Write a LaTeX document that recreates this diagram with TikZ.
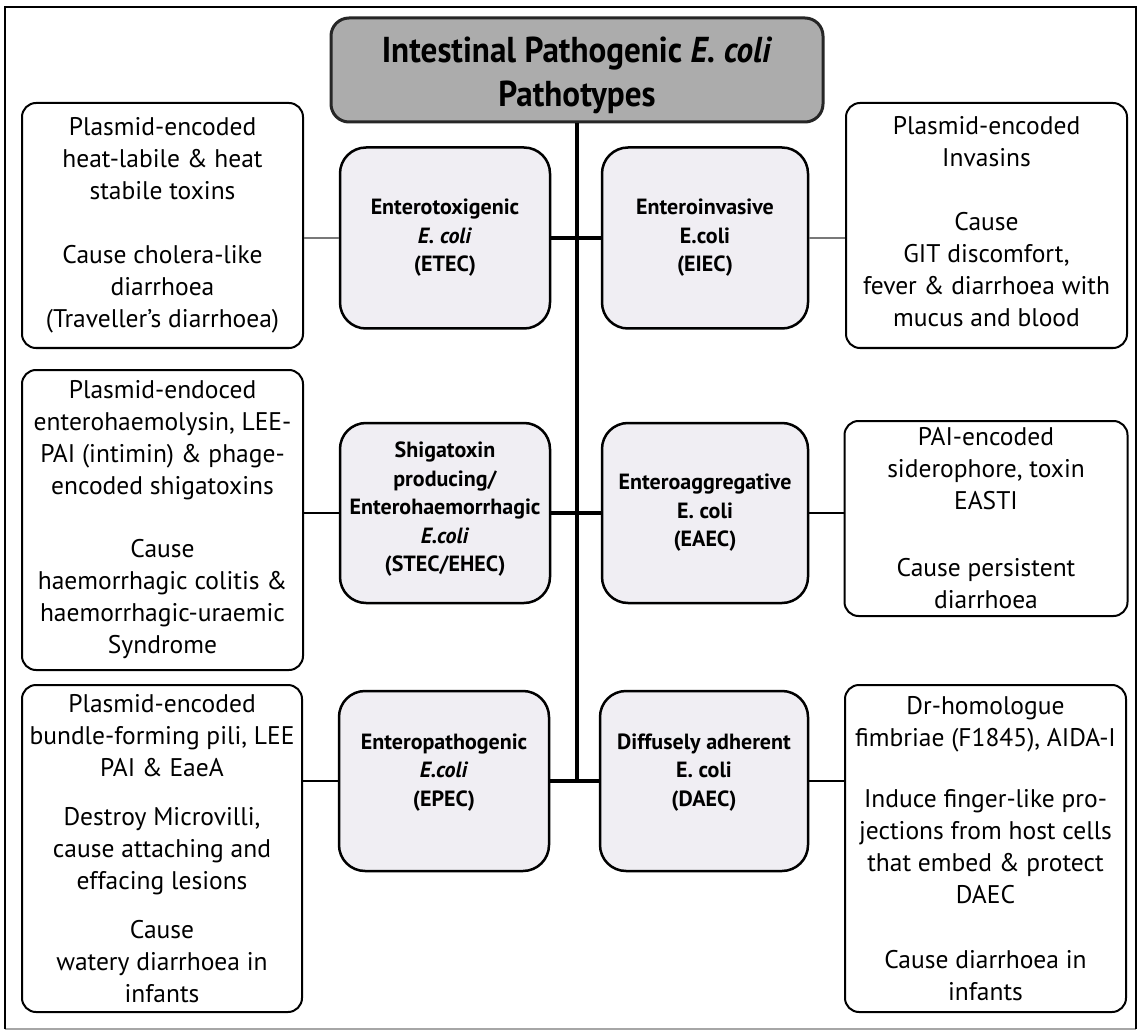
\documentclass[tikz,border=0pt]{standalone}
\usepackage{fontspec}
\setmainfont{PT Sans}
\newfontfamily\titlefont[FakeStretch=0.92]{PT Sans}
\definecolor{midfill}{RGB}{240,238,243}
\definecolor{titlefill}{RGB}{172,172,172}
\definecolor{linkgray}{RGB}{120,120,120}
\newcommand\lowpad[1]{\rule[-#1]{0pt}{#1}}
\newcommand\toppad[1]{\rule{0pt}{#1}}
\tikzset{
  outerbox/.style={draw=black, line width=2pt, rounded corners=14pt, fill=white,
    align=center, inner sep=0pt, font=\fontsize{25.5}{32}\selectfont},
  midbox/.style={draw=black, line width=2.5pt, rounded corners=26pt, fill=midfill,
    align=center, inner sep=0pt, font=\bfseries\fontsize{22}{28.5}\selectfont},
  titlebox/.style={draw=black!85, line width=3pt, rounded corners=18pt, fill=titlefill,
    align=center, inner sep=0pt, font=\titlefont\bfseries\fontsize{36}{44}\selectfont},
  thinlink/.style={draw=linkgray, line width=1.5pt},
  medlink/.style={draw=black, line width=2.5pt},
  thicklink/.style={draw=black, line width=4.5pt},
}
\begin{document}
\begin{tikzpicture}[x=1pt,y=-1pt]
\useasboundingbox (0,0) rectangle (1138,1032);
\fill[white] (0,0) rectangle (1138,1032);
\draw[line width=1.5pt, black!35] (5,1029) -- (1136,1029);
\draw[line width=2.5pt] (5,1029) -- (5,7) -- (1136,7) -- (1136,1029);

% title
\node[titlebox, minimum width=492pt, minimum height=104pt] (title) at (577,70)
  {\toppad{36pt}Intestinal Pathogenic \textit{E. coli}\\Pathotypes};

% middle boxes
\node[midbox, minimum width=210pt, minimum height=181pt] (etec) at (445,238)
  {Enterotoxigenic\\\textit{E. coli}\\(ETEC)};
\node[midbox, minimum width=206pt, minimum height=181pt] (eiec) at (705,238)
  {Enteroinvasive\\E.coli\\(EIEC)};
\node[midbox, minimum width=210pt, minimum height=180pt] (stec) at (445,513)
  {Shigatoxin\\producing/\\Enterohaemorrhagic\\\textit{E.coli}\\(STEC/EHEC)\lowpad{12pt}};
\node[midbox, minimum width=206pt, minimum height=180pt] (eaec) at (705,513)
  {Enteroaggregative\\E. coli\\(EAEC)};
\node[midbox, minimum width=210pt, minimum height=180pt] (epec) at (444,781)
  {Enteropathogenic\\\textit{E.coli}\\(EPEC)\lowpad{22pt}};
\node[midbox, minimum width=208pt, minimum height=180pt] (daec) at (704,781)
  {Diffusely adherent\\E. coli\\(DAEC)\lowpad{22pt}};

% outer boxes left
\node[outerbox, minimum width=281pt, minimum height=245pt] (l1) at (162.5,225.5)
  {Plasmid-encoded\\heat-labile \& heat\\stabile toxins\\[32pt]Cause cholera-like\\diarrhoea\\(Traveller’s diarrhoea)};
\node[outerbox, minimum width=281pt, minimum height=300pt] (l2) at (162.5,520)
  {Plasmid-endoced\\enterohaemolysin, LEE-\\PAI (intimin) \& phage-\\encoded shigatoxins\\[31pt]Cause\\haemorrhagic colitis \&\\haemorrhagic-uraemic\\Syndrome};
\node[outerbox, minimum width=280pt, minimum height=327pt] (l3) at (162,848.5)
  {Plasmid-encoded\\bundle-forming pili, LEE\\PAI \& EaeA\\[17pt]Destroy Microvilli,\\cause attaching and\\effacing lesions\\[17pt]Cause\\watery diarrhoea in\\infants};

% outer boxes right
\node[outerbox, minimum width=281pt, minimum height=245pt] (r1) at (986.5,225.5)
  {Plasmid-encoded\\Invasins\\[32pt]Cause\\GIT discomfort,\\fever \& diarrhoea with\\mucus and blood\lowpad{9pt}};
\node[outerbox, minimum width=283pt, minimum height=195pt] (r2) at (986,518.5)
  {PAI-encoded\\siderophore, toxin\\EASTI\\[35pt]Cause persistent\\diarrhoea};
\node[outerbox, minimum width=281pt, minimum height=327pt] (r3) at (985.5,848.5)
  {Dr-homologue\\fimbriae (F1845), AIDA-I\\[29pt]Induce finger-like pro-\\jections from host cells\\that embed \& protect\\DAEC\\[33pt]Cause diarrhoea in\\infants};

% trunk and links
\draw[thicklink] (title.south) -- (title.south |- epec.east);
\draw[thicklink] (etec.east) -- (eiec.west);
\draw[thicklink] (stec.east) -- (eaec.west);
\draw[thicklink] (epec.east) -- (daec.west);

\draw[thinlink] (etec.west -| l1.east) -- (etec.west);
\draw[thinlink] (eiec.east) -- (eiec.east -| r1.west);
\draw[medlink] (stec.west -| l2.east) -- (stec.west);
\draw[medlink] (eaec.east) -- (eaec.east -| r2.west);
\draw[medlink] (epec.west -| l3.east) -- (epec.west);
\draw[medlink] (daec.east) -- (daec.east -| r3.west);
\end{tikzpicture}
\end{document}
